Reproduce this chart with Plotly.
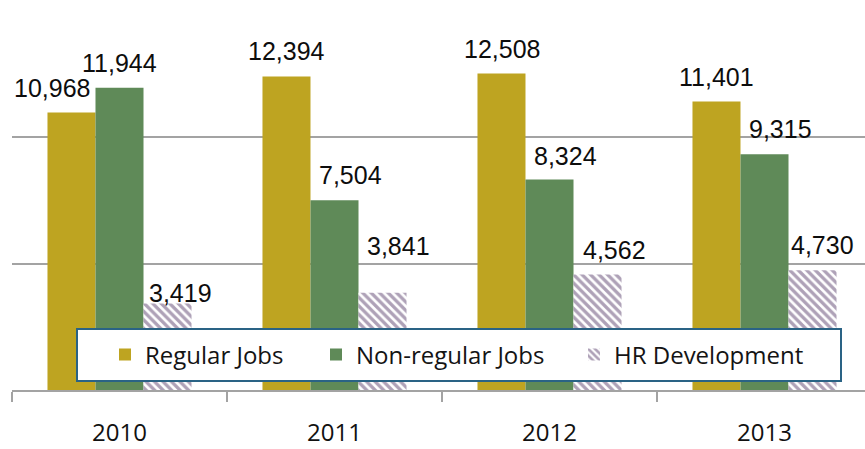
import plotly.graph_objects as go

# Data
years = ["2010", "2011", "2012", "2013"]
regular_jobs = [10968, 12394, 12508, 11401]
non_regular_jobs = [11944, 7504, 8324, 9315]
hr_development = [3419, 3841, 4562, 4730]

series_names = ["Regular Jobs", "Non-regular Jobs", "HR Development"]
y_ticks = [0, 5000, 10000, 15000]

# Styling
GOLD = "#BEA421"
GREEN = "#5F8A58"
HATCH = "#5E4370"
GRID = "#A3A3A3"
LABEL_FONT = "Liberation Sans, Arial, sans-serif"
TEXT_FONT = "Open Sans, Noto Sans, sans-serif"

W, H = 865, 449
M_L, M_R, M_T, M_B = 12, 0, 10, 59
PLOT_W = W - M_L - M_R
PLOT_H = H - M_T - M_B
CAT_PX = 215  # pixel width of one year slot
BAR_PX = 48

# pixel nudges for the value labels (dx, dy) per series and year
label_nudges = [
    [(-20, 0), (0, 0), (0, 0), (0, 0)],
    [(0, 0), (16, 0), (16, -2), (16, 0)],
    [(13, -14), (16, 22), (17, 0), (10, 0)],
]

fig = go.Figure()
fig.add_trace(go.Bar(name=series_names[0], x=years, y=regular_jobs,
                     marker=dict(color=GOLD, line=dict(width=0)), legend="legend"))
fig.add_trace(go.Bar(name=series_names[1], x=years, y=non_regular_jobs,
                     marker=dict(color=GREEN, line=dict(width=0)), legend="legend2"))
fig.add_trace(go.Bar(name=series_names[2], x=years, y=hr_development,
                     marker=dict(color="white", line=dict(width=0),
                                 pattern=dict(shape="\\", fgcolor=HATCH, bgcolor="white",
                                              size=6, solidity=0.55)),
                     legend="legend3"))

# Value labels above bars
annotations = []
step = BAR_PX / CAT_PX
for si, vals in enumerate([regular_jobs, non_regular_jobs, hr_development]):
    for yi, v in enumerate(vals):
        dx, dy = label_nudges[si][yi]
        annotations.append(dict(
            x=yi + (si - 1) * step, y=v, xref="x", yref="y",
            text=f"{v:,}", showarrow=False, yanchor="bottom", xanchor="center",
            xshift=dx, yshift=9 + dy,
            font=dict(family=LABEL_FONT, size=25, color="#0d0d0d"),
        ))


def px_x(p):
    return (p - M_L) / PLOT_W


def px_y(p):
    return (H - M_B - p) / PLOT_H


# Legend frame
shapes = [dict(type="rect", xref="paper", yref="paper",
               x0=px_x(77), x1=px_x(841), y0=px_y(381), y1=px_y(329),
               fillcolor="white", line=dict(color="#2A6385", width=2), layer="above")]

legend_common = dict(orientation="h", bgcolor="rgba(0,0,0,0)", borderwidth=0,
                     font=dict(family=TEXT_FONT, size=24, color="#141414"),
                     xanchor="left", yanchor="middle", y=px_y(355),
                     xref="paper", yref="paper")

fig.update_layout(
    width=W, height=H,
    margin=dict(l=M_L, r=M_R, t=M_T, b=M_B),
    paper_bgcolor="white", plot_bgcolor="white",
    barmode="group", bargap=0.33, bargroupgap=0,
    showlegend=True,
    legend=dict(legend_common, x=px_x(105)),
    legend2=dict(legend_common, x=px_x(316)),
    legend3=dict(legend_common, x=px_x(574)),
    annotations=annotations,
    shapes=shapes,
    xaxis=dict(
        type="category", range=[-0.5, -0.5 + PLOT_W / CAT_PX],
        showline=True, linecolor=GRID, linewidth=2,
        ticks="outside", tickson="boundaries", ticklen=10, tickcolor=GRID, tickwidth=2,
        tickfont=dict(family=TEXT_FONT, size=24, color="#111111"),
        ticklabelstandoff=20,
        showgrid=False,
    ),
    yaxis=dict(
        range=[0, 15020], tickvals=y_ticks, showticklabels=False,
        showgrid=True, gridcolor=GRID, gridwidth=2, zeroline=False, showline=False,
    ),
)

fig.write_html("out.html")
